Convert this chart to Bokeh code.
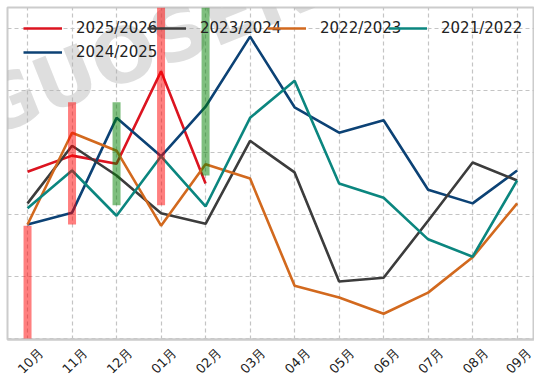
import math
from bokeh.plotting import figure
from bokeh.models import Legend, LegendItem, FixedTicker, Label, Range1d, LinearAxis
from bokeh.embed import file_html
from bokeh.resources import INLINE

months = ["10月", "11月", "12月", "01月", "02月", "03月", "04月", "05月", "06月", "07月", "08月", "09月"]

s2025_26 = [2.69, 2.95, 2.82, 4.31, 2.50]
s2024_25 = [1.84, 2.03, 3.56, 2.94, 3.74, 4.87, 3.73, 3.32, 3.52, 2.40, 2.18, 2.71]
s2023_24 = [2.18, 3.11, 2.63, 2.02, 1.85, 3.19, 2.68, 0.92, 0.98, 1.90, 2.84, 2.55]
s2022_23 = [1.84, 3.32, 3.03, 1.82, 2.81, 2.58, 0.85, 0.66, 0.40, 0.74, 1.31, 2.18]
s2021_22 = [2.10, 2.71, 1.98, 2.94, 2.13, 3.56, 4.16, 2.50, 2.27, 1.60, 1.32, 2.55]

bar_top = [1.82, 3.81, 3.81, 5.50, 5.50]
bar_bottom = [-0.10, 1.84, 2.15, 2.15, 2.63]
bar_color = ["red", "red", "green", "red", "green"]

series = [
    ("2025/2026", s2025_26, "#dc1420"),
    ("2024/2025", s2024_25, "#0c4275"),
    ("2023/2024", s2023_24, "#3c3c3c"),
    ("2022/2023", s2022_23, "#d2691e"),
    ("2021/2022", s2021_22, "#0b867f"),
]

FONT = "DejaVu Sans"
X0, X1 = -0.45, 11.39
SHIFT = 0.30
H_FRAME = 332

p = figure(width=534, height=384, output_backend="svg", toolbar_location=None,
           x_range=Range1d(X0, X1), y_range=Range1d(-0.016, 5.34),
           min_border_left=7, min_border_right=0, min_border_top=7, min_border_bottom=40)

p.outline_line_color = "#cccccc"
p.outline_line_width = 2
p.background_fill_color = "white"

p.yaxis.visible = False
p.xaxis.visible = False
p.ygrid.ticker = FixedTicker(ticks=[0, 1, 2, 3, 4, 5])
p.xgrid.ticker = FixedTicker(ticks=list(range(len(months))))
for g in (p.xgrid, p.ygrid):
    g.grid_line_color = "#c4c4c4"
    g.grid_line_dash = "4 3"
    g.grid_line_width = 1.2

p.extra_x_ranges = {"lbl": Range1d(X0 - SHIFT, X1 - SHIFT)}
ax = LinearAxis(x_range_name="lbl", ticker=FixedTicker(ticks=list(range(len(months)))))
ax.major_label_overrides = {i: m for i, m in enumerate(months)}
ax.major_label_orientation = math.pi / 4
ax.major_label_text_font = FONT
ax.major_label_text_font_size = "13px"
ax.major_label_text_color = "#222222"
ax.major_tick_line_color = None
ax.minor_tick_line_color = None
ax.major_tick_out = 0
ax.major_tick_in = 0
ax.minor_tick_out = 0
ax.minor_tick_in = 0
ax.axis_line_color = "#cccccc"
ax.axis_line_width = 2
ax.major_label_standoff = 11
p.add_layout(ax, "below")

wm = Label(x=-29, y=226, x_units="screen", y_units="screen", text="GUOSEN",
           angle=0.38, text_font=FONT, text_font_size="76px", text_font_style="bold",
           text_baseline="alphabetic", text_color="#b0b0b0", text_alpha=0.42)
wm.level = "underlay"
p.add_layout(wm)

renderers = {}
for name, vals, color in series:
    xs = list(range(len(vals)))
    renderers[name] = p.line(xs, vals, line_color=color, line_width=2.6)

p.vbar(x=list(range(len(bar_top))), top=bar_top, bottom=bar_bottom, width=0.18,
       fill_color=bar_color, fill_alpha=0.5, line_color=None)

legend_pos = [
    ("2025/2026", 16, H_FRAME - 31),
    ("2023/2024", 140, H_FRAME - 31),
    ("2022/2023", 260, H_FRAME - 31),
    ("2021/2022", 381, H_FRAME - 31),
    ("2024/2025", 16, H_FRAME - 55),
]
for name, lx, ly in legend_pos:
    lg = Legend(items=[LegendItem(label=name, renderers=[renderers[name]])], location=(lx, ly))
    lg.background_fill_alpha = 0
    lg.border_line_alpha = 0
    lg.padding = 0
    lg.margin = 0
    lg.glyph_width = 39
    lg.glyph_height = 20
    lg.label_standoff = 14
    lg.label_text_font = FONT
    lg.label_text_font_size = "15px"
    lg.label_text_color = "#222222"
    p.add_layout(lg)

open("out.html", "w").write(file_html(p, INLINE))
